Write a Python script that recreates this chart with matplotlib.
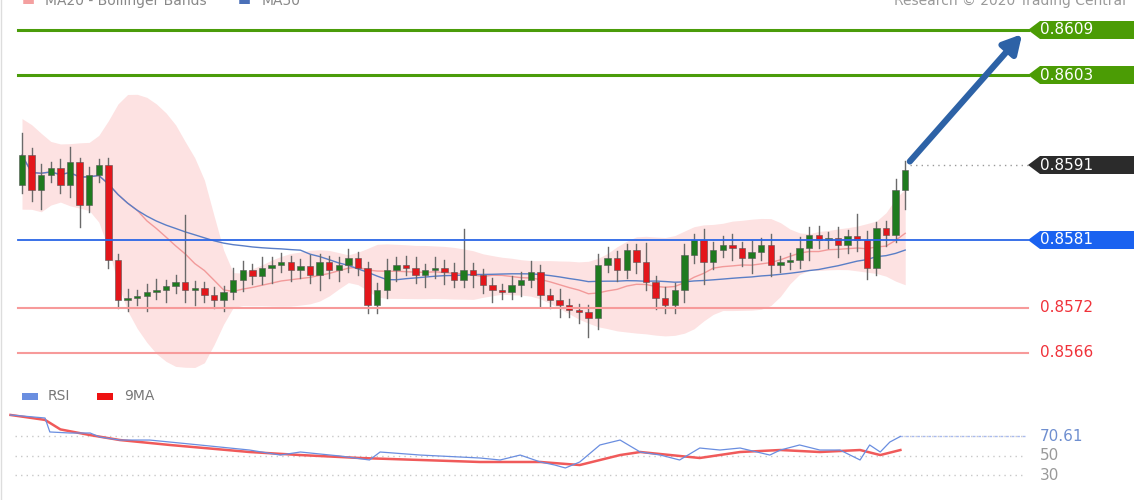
import numpy as np
import pandas as pd
import matplotlib
matplotlib.use("Agg")
import matplotlib.pyplot as plt
from matplotlib.patches import Polygon, Rectangle

# price data, in pips above 0.8560
base = 0.8560
first_open = 28.3
closes = [32.3, 27.7, 29.7, 30.6, 28.3, 31.4, 25.7, 29.7, 31.0,
          18.3, 13.0,
          13.3, 13.5, 14.1, 14.3, 14.9, 15.4, 14.3, 14.6, 13.7, 13.0, 14.1,
          15.7, 17.0, 16.2, 17.3, 17.7, 18.1, 17.0, 17.5, 16.3, 18.1, 17.0, 17.7, 18.6, 17.3,
          12.3, 14.3,
          17.0, 17.7, 17.3, 16.3, 17.0, 17.3, 16.7, 15.7, 17.0, 16.3, 15.0, 14.3, 14.1, 15.0, 15.7, 16.7,
          13.7, 13.0, 12.3, 11.7, 11.4, 10.6,
          17.7, 18.6, 17.0, 19.7, 18.1,
          15.4, 13.3, 12.3, 14.3,
          19.0, 21.0, 18.1, 19.7, 20.3, 19.9, 18.6, 19.4, 20.3, 17.7, 18.1, 18.3, 19.9, 21.7, 21.0, 21.3, 20.3, 21.5, 21.0,
          17.3, 22.6, 21.7, 27.7, 30.3]
wick_up = [3.0, 1.0, 1.5, 0.8, 1.2, 2.0, 0.6, 1.0, 0.8,
           1.0, 0.8,
           1.2, 0.8, 1.0, 1.5, 0.8, 1.0, 9.0, 1.0, 0.8, 1.0, 0.8,
           1.5, 1.2, 0.8, 1.5, 1.0, 1.2, 0.8, 1.0, 1.5, 1.0, 0.8, 1.0, 1.2, 0.8,
           0.8, 1.0,
           1.5, 1.0, 1.2, 1.5, 0.8, 1.5, 1.0, 1.2, 5.5, 1.0, 0.8, 1.0, 0.8, 1.2, 1.0, 1.5,
           1.0, 0.8, 1.5, 0.8, 0.8, 1.0,
           1.5, 1.5, 1.0, 0.8, 0.8,
           2.5, 0.8, 1.5, 1.0,
           1.5, 0.8, 1.5, 1.0, 1.2, 1.5, 0.8, 1.5, 1.0, 1.5, 0.8, 1.0, 1.5, 1.0, 1.2, 0.8, 1.5, 0.8, 3.0,
           1.2, 0.8, 1.0, 1.5, 1.2]
wick_dn = [1.0, 1.5, 2.5, 1.0, 1.0, 1.5, 3.0, 1.0, 1.0,
           1.0, 1.0,
           1.5, 1.0, 2.0, 1.0, 1.5, 1.0, 1.5, 2.0, 1.0, 1.0, 1.5,
           1.0, 1.5, 1.0, 1.0, 2.0, 1.0, 1.5, 1.0, 1.0, 2.0, 1.0, 1.5, 1.0, 1.0,
           1.0, 1.0,
           1.0, 1.5, 1.0, 1.0, 1.5, 1.0, 1.5, 1.0, 1.0, 1.5, 1.0, 1.5, 1.0, 1.0, 1.5, 1.0,
           1.5, 1.0, 1.5, 1.0, 1.5, 2.5,
           1.5, 1.0, 1.5, 1.0, 1.5,
           1.0, 1.5, 1.0, 1.0,
           1.5, 1.0, 3.0, 1.0, 1.0, 1.5, 1.0, 2.0, 1.0, 1.5, 1.0, 1.0, 1.0, 1.5, 1.0, 1.0, 1.5, 1.0, 1.5,
           1.5, 1.0, 1.5, 1.0, 2.5]

# RSI panel (candle index, value)
rsi_idx = [-1.2, 2.4, 2.9, 5.0, 7.1, 8.1, 10.2, 13.3, 18.5, 23.7, 26.9, 29.0, 33.1, 36.2, 37.3, 41.5, 47.7,
           49.8, 51.9, 54.0, 55.5, 56.6, 58.1, 60.2, 62.3, 64.4, 66.5, 68.5, 70.6, 72.7, 74.8, 77.9, 79.0,
           81.0, 83.1, 85.2, 87.3, 88.3, 89.4, 90.4, 91.5]
rsi_val = [93.2, 90.0, 75.3, 74.2, 74.2, 70.0, 66.8, 66.8, 61.6, 56.3, 51.0, 54.2, 50.0, 45.8, 54.2, 51.0, 47.9,
           45.8, 51.0, 43.7, 40.5, 37.4, 43.7, 61.6, 66.8, 54.2, 51.0, 45.8, 58.4, 56.3, 58.4, 51.0, 56.3,
           61.6, 56.3, 56.3, 45.8, 61.6, 54.2, 64.7, 70.6]
ma9_idx = [-1.2, 2.4, 4.0, 7.1, 10.2, 15.4, 23.7, 29.0, 35.2, 41.5, 47.7, 54.0, 58.1, 62.3, 64.4, 70.6,
           74.8, 79.0, 83.1, 87.3, 89.4, 91.5]
ma9_val = [93.2, 88.0, 78.0, 72.0, 66.8, 61.6, 54.2, 51.0, 47.9, 45.8, 43.7, 43.7, 40.5, 51.0, 54.2, 47.9,
           54.2, 56.3, 54.2, 56.3, 51.0, 56.3]

levels_green = [0.8609, 0.8603]
level_last = 0.8591
level_blue = 0.8581
levels_red = [0.8572, 0.8566]

closes = np.array(closes)
opens = np.r_[first_open, closes[:-1]]
highs = np.maximum(opens, closes) + np.array(wick_up)
lows = np.minimum(opens, closes) - np.array(wick_dn)
closes_p = base + closes / 10000
opens_p = base + opens / 10000
highs_p = base + highs / 10000
lows_p = base + lows / 10000
n = len(closes)
x = np.arange(n)

s = pd.Series(closes_p)
ma20 = s.rolling(13, min_periods=1).mean()
sd20 = s.rolling(13, min_periods=2).std().fillna(0.00025)
upper = (ma20 + 2.1 * sd20).rolling(3, min_periods=1, center=True).mean()
lower = (ma20 - 2.1 * sd20).rolling(3, min_periods=1, center=True).mean()
ma50 = s.rolling(30, min_periods=1).mean()

fig = plt.figure(figsize=(11.4, 5), dpi=100)
fig.patch.set_facecolor("white")

px2x = lambda px: (px - 22) / 9.6
ax = fig.add_axes([0, 0.24, 1, 0.76])
ax.set_xlim(px2x(0), px2x(1140))
ax.set_ylim(0.8609 - 350 / 75000, 0.8609 + 30 / 75000)
ax.axis("off")

ax.fill_between(x, lower, upper, color="#fde2e2", lw=0, zorder=1)
ax.plot(x, ma20, color="#f29a9a", lw=1, zorder=2)
ax.plot(x, ma50, color="#5a7ec6", lw=1, zorder=2)

for i in range(n):
    up = closes_p[i] >= opens_p[i]
    col = "#1f7a1f" if up else "#e3161b"
    ax.plot([i, i], [lows_p[i], highs_p[i]], color="#6a6a6a", lw=1, zorder=3)
    b0 = min(opens_p[i], closes_p[i])
    h = max(abs(closes_p[i] - opens_p[i]), 0.00002)
    ax.add_patch(Rectangle((i - 0.33, b0), 0.66, h, facecolor=col, edgecolor="#555555", lw=0.4, zorder=4))

xl0, xl1 = px2x(18), px2x(1028)
for lv in levels_green:
    ax.plot([xl0, xl1], [lv, lv], color="#4a9c0a", lw=2.2, zorder=5)
ax.plot([xl0, xl1], [level_blue, level_blue], color="#2a66e6", lw=1.3, zorder=5)
for lv in levels_red:
    ax.plot([xl0, xl1], [lv, lv], color="#f79a9a", lw=1.5, zorder=5)
ax.plot([n - 0.5, xl1], [level_last, level_last], color="#999999", lw=1, ls=(0, (1, 3)), zorder=5)

# arrow
ax.annotate("", xy=(px2x(1024), 0.8609 - 2 / 75000), xytext=(px2x(908), level_last + 0.00002),
            arrowprops=dict(arrowstyle="-|>,head_length=1.1,head_width=0.6", color="#2d62a6", lw=4.5),
            zorder=6)

# right labels
def tag(lv, fc, txt):
    hh = 9 / 75000
    xa, xb, xc = px2x(1028), px2x(1040), px2x(1134)
    ax.add_patch(Polygon([(xa, lv), (xb, lv + hh), (xc, lv + hh), (xc, lv - hh), (xb, lv - hh)],
                         closed=True, facecolor=fc, edgecolor="none", zorder=7))
    ax.text(px2x(1040), lv, txt, color="white", fontsize=11, va="center", ha="left", zorder=8)

for lv in levels_green:
    tag(lv, "#4b9c05", f"{lv:.4f}")
tag(level_last, "#2b2b2b", f"{level_last:.4f}")
tag(level_blue, "#1a62f0", f"{level_blue:.4f}")
for lv in levels_red:
    ax.text(px2x(1040), lv, f"{lv:.4f}", color="#f0323a", fontsize=11, va="center", ha="left")

# header, cut off at the top edge as in the source
fig.text(22 / 1140, 0.998, "\u25ac", color="#f4a0a0", fontsize=10, va="center")
fig.text(45 / 1140, 0.998, "MA20 - Bollinger Bands", color="#888888", fontsize=10, va="center")
fig.text(238 / 1140, 0.998, "\u25ac", color="#4a70b8", fontsize=10, va="center")
fig.text(262 / 1140, 0.998, "MA50", color="#888888", fontsize=10, va="center")
fig.text(1126 / 1140, 0.998, "Research \u00a9 2020 Trading Central", color="#999999", fontsize=10,
         va="center", ha="right")

# RSI panel
ar = fig.add_axes([0, 0.01, 1, 0.2])
ar.set_xlim(px2x(0), px2x(1140))
ar.set_ylim(50 - 39 / 0.95, 50 + 61 / 0.95)
ar.axis("off")
for lv in [70.61, 50, 30]:
    ar.plot([px2x(15), px2x(1025)], [lv, lv], color="#c8c8c8", lw=1, ls=(0, (1, 3)))
ar.plot([rsi_idx[-1], px2x(1025)], [rsi_val[-1], rsi_val[-1]], color="#aabbee", lw=1, ls=(0, (2, 2)))
ar.plot(ma9_idx, ma9_val, color="#f05a5a", lw=1.8)
ar.plot(rsi_idx, rsi_val, color="#6a8ee0", lw=0.9)
ar.text(px2x(1040), 70.61, "70.61", color="#6f8fd0", fontsize=11, va="center")
ar.text(px2x(1040), 50, "50", color="#999999", fontsize=11, va="center")
ar.text(px2x(1040), 30, "30", color="#999999", fontsize=11, va="center")

fig.add_artist(Rectangle((22 / 1140, 1 - 400 / 500), 16 / 1140, 7 / 500, transform=fig.transFigure,
                         facecolor="#6a8ee0", edgecolor="none"))
fig.text(48 / 1140, 1 - 396 / 500, "RSI", color="#777777", fontsize=10, va="center")
fig.add_artist(Rectangle((97 / 1140, 1 - 400 / 500), 16 / 1140, 7 / 500, transform=fig.transFigure,
                         facecolor="#ee1111", edgecolor="none"))
fig.text(124 / 1140, 1 - 396 / 500, "9MA", color="#777777", fontsize=10, va="center")

fig.add_artist(plt.Line2D([0.001, 0.001], [0, 1], color="#dddddd", lw=1, transform=fig.transFigure))

fig.savefig("out.png", dpi=100)
